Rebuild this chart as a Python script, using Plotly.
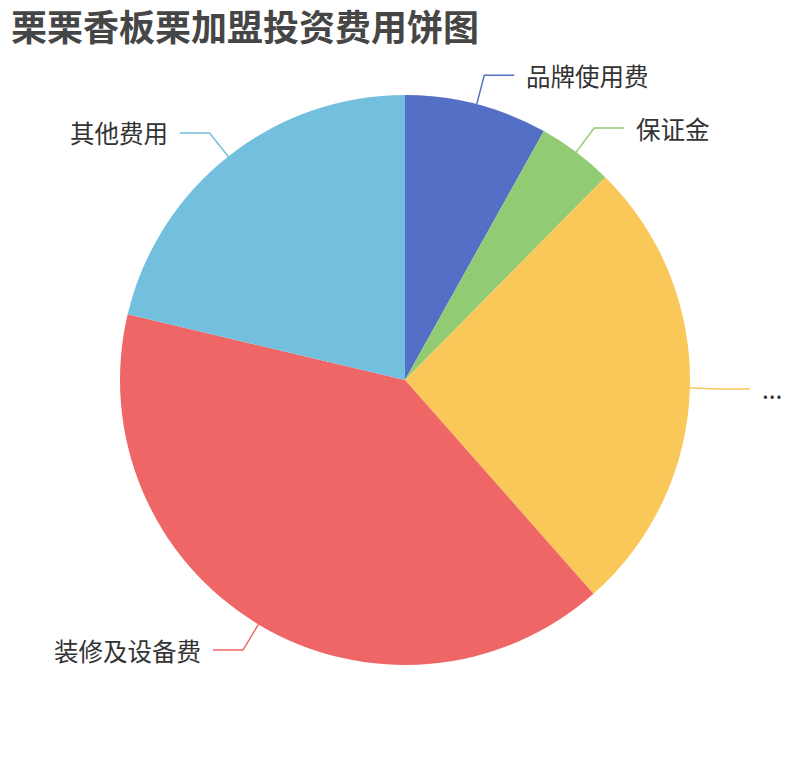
import math
import plotly.graph_objects as go

# ---- data ----
categories = ["品牌使用费", "保证金", "...", "装修及设备费", "其他费用"]
values = [8.1, 4.3, 26.1, 40.2, 21.3]
colors = ["#5470c6", "#91cc75", "#fac858", "#ee6666", "#73c0de"]
title_text = "栗栗香板栗加盟投资费用饼图"

# ---- layout constants (page pixels) ----
W, H = 810, 760
CX, CY, R = 405, 380, 285
LEN1, LEN2, GAP = 30, 30, 10
FONT = "Noto Sans CJK SC, Noto Sans, sans-serif"

def px(x):
    return x / W

def py(y):
    return 1 - y / H

fig = go.Figure(go.Pie(
    labels=categories,
    values=values,
    sort=False,
    direction="clockwise",
    rotation=0,
    marker=dict(colors=colors, line=dict(width=0)),
    textinfo="none",
    hoverinfo="label+value+percent",
    domain=dict(x=[px(CX - R), px(CX + R)], y=[py(CY + R), py(CY - R)]),
    showlegend=False,
))

total = sum(values)
shapes = []
annotations = []
cum = 0.0
for name, v, c in zip(categories, values, colors):
    mid = (cum + v / 2) / total * 2 * math.pi
    cum += v
    s, co = math.sin(mid), math.cos(mid)
    x0, y0 = CX + R * s, CY - R * co
    x1, y1 = CX + (R + LEN1) * s, CY - (R + LEN1) * co
    side = 1 if s >= 0 else -1
    x2 = x1 + side * LEN2
    shapes.append(dict(type="path", xref="paper", yref="paper",
                       path=f"M {px(x0)},{py(y0)} L {px(x1)},{py(y1)} L {px(x2)},{py(y1)}",
                       line=dict(color=c, width=1.5)))
    annotations.append(dict(x=px(x2 + side * GAP), y=py(y1), xref="paper", yref="paper",
                            text=name, showarrow=False,
                            xanchor="left" if side > 0 else "right", yanchor="middle",
                            font=dict(family=FONT, size=24.5, color="#333333")))

annotations.append(dict(x=px(9), y=py(25), xref="paper", yref="paper",
                        text=f"<b>{title_text}</b>", showarrow=False,
                        xanchor="left", yanchor="middle",
                        font=dict(family=FONT, size=36, color="#464646")))

fig.update_layout(
    width=W, height=H,
    margin=dict(l=0, r=0, t=0, b=0),
    paper_bgcolor="white", plot_bgcolor="white",
    shapes=shapes, annotations=annotations,
)

fig.write_html("out.html", config={"displayModeBar": False},
               post_script="document.body.style.margin='0';")
